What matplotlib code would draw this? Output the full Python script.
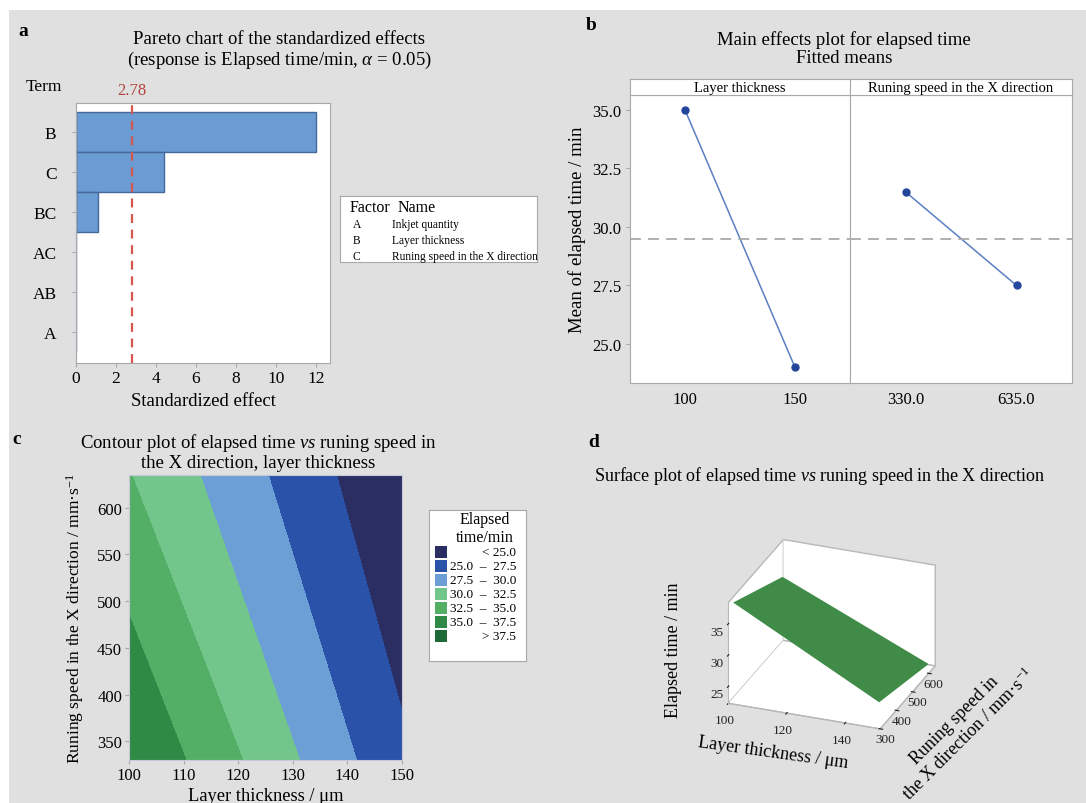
import matplotlib
matplotlib.use("Agg")
import matplotlib.pyplot as plt
import matplotlib.transforms as mtransforms
from matplotlib.patches import Rectangle
import numpy as np

plt.rcParams['font.family'] = ['Liberation Serif', 'DejaVu Serif']
plt.rcParams['mathtext.fontset'] = 'custom'
plt.rcParams['mathtext.rm'] = 'Liberation Serif'
plt.rcParams['mathtext.it'] = 'Liberation Serif:italic'

# a: Pareto chart of standardized effects
terms = ['B', 'C', 'BC', 'AC', 'AB', 'A']
effects = [12.0, 4.38, 1.1, 0.0, 0.0, 0.0]
t_crit = 2.78
factor_codes = ['A', 'B', 'C']
factor_names = ['Inkjet quantity', 'Layer thickness', 'Runing speed in the X direction']

# b: main effects (fitted means)
thick_labels = ['100', '150']
thick_means = [35.0, 24.0]
speed_labels = ['330.0', '635.0']
speed_means = [31.5, 27.5]
grand_mean = 29.5

# c / d: fitted elapsed time at the corners of the design
thick_range = [100, 150]
speed_range = [330, 635]
time_grid = [[37.5, 25.5],    # speed 330
             [32.6, 22.6]]    # speed 635
levels = [25.0, 27.5, 30.0, 32.5, 35.0, 37.5]
level_colors = ['#2b2e63', '#2a52a8', '#6c9fd5', '#73c68b', '#54af66', '#2e8a45', '#1e6a36']

W, H = 1086, 804
BG = '#e0e0e0'
EDGE = '#a8a8a8'


def rect(x0, y0, x1, y1):
    # pixel box (top-left origin) -> figure fraction
    return [x0 / W, 1 - y1 / H, (x1 - x0) / W, (y1 - y0) / H]


def fx(x):
    return x / W


def fy(y):
    return 1 - y / H


fig = plt.figure(figsize=(W / 100, H / 100), dpi=100)
fig.patch.set_facecolor('white')
fig.add_artist(Rectangle((fx(9), 0), 1, fy(11), transform=fig.transFigure,
                         facecolor=BG, edgecolor='none', zorder=-10))

# ---------------- a ----------------
ax = fig.add_axes(rect(76, 104, 330, 364))
ypos = np.arange(len(terms))
ax.barh(ypos, effects, height=1.0, color='#6a9bd2', edgecolor='#46699c', linewidth=1)
ax.axvline(t_crit, color='#d4564f', ls=(0, (4, 3)), lw=1.6)
ax.set_xlim(0, 12.7)
ax.set_ylim(len(terms) - 1 + 0.77, -0.73)
ax.set_yticks(ypos, terms, fontsize=12.5)
ax.set_xticks(range(0, 13, 2))
ax.tick_params(axis='x', labelsize=12.5, length=3, color=EDGE, pad=2)
ax.tick_params(axis='y', length=3, color=EDGE, pad=11)
for s in ax.spines.values():
    s.set_color(EDGE)
trans = mtransforms.blended_transform_factory(ax.transData, ax.transAxes)
ax.text(t_crit, 1.02, f'{t_crit:.2f}', transform=trans, color='#b0443c',
        ha='center', va='bottom', fontsize=12)
ax.set_xlabel('Standardized effect', fontsize=13.5, labelpad=4)
fig.text(fx(26), fy(87), 'Term', fontsize=12.5, ha='left', va='center')
fig.text(fx(279), fy(51), 'Pareto chart of the standardized effects\n'
         r'(response is Elapsed time/min, $\alpha$ = 0.05)',
         fontsize=13.5, ha='center', va='center', linespacing=1.1)
fig.text(fx(18), fy(31), 'a', fontsize=14, fontweight='bold', ha='left', va='center')

# factor table
tab = fig.add_axes(rect(340, 197, 537, 263))
tab.set_xticks([])
tab.set_yticks([])
for s in tab.spines.values():
    s.set_color(EDGE)
tab.text(0.05, 0.84, 'Factor', fontsize=11.5, va='center', transform=tab.transAxes)
tab.text(0.29, 0.84, 'Name', fontsize=11.5, va='center', transform=tab.transAxes)
for i, (c, n) in enumerate(zip(factor_codes, factor_names)):
    yy = 0.58 - i * 0.245
    tab.text(0.065, yy, c, fontsize=8.3, va='center', transform=tab.transAxes)
    tab.text(0.265, yy, n, fontsize=8.3, va='center', transform=tab.transAxes)

# ---------------- b ----------------
line_c = '#5b7fc3'
dot_c = '#24469a'
panels = [(thick_labels, thick_means, 'Layer thickness', 630, 850),
          (speed_labels, speed_means, 'Runing speed in the X direction', 850, 1072)]
first = None
for labels, means, name, x0, x1 in panels:
    axb = fig.add_axes(rect(x0, 96, x1, 384), sharey=first)
    axb.plot(range(len(means)), means, color=line_c, lw=1.1, marker='o',
             ms=5, mfc=dot_c, mec=dot_c)
    axb.axhline(grand_mean, color='#a9a9a9', ls=(0, (6, 4)), lw=1.3)
    axb.set_xlim(-0.5, 1.5)
    axb.set_xticks(range(len(labels)), labels)
    axb.tick_params(axis='x', labelsize=12, length=0, pad=6)
    for s in axb.spines.values():
        s.set_color(EDGE)
    if first is None:
        first = axb
        axb.set_ylim(23.33, 35.64)
        axb.set_yticks([25.0, 27.5, 30.0, 32.5, 35.0])
        axb.set_yticklabels([f'{v:.1f}' for v in [25.0, 27.5, 30.0, 32.5, 35.0]])
        axb.tick_params(axis='y', labelsize=12, length=3, color=EDGE, pad=3)
        axb.set_ylabel('Mean of elapsed time / min', fontsize=13.5)
        axb.yaxis.set_label_coords(-0.2, 0.535)
    else:
        axb.tick_params(axis='y', left=False, labelleft=False)
    strip = fig.add_axes(rect(x0, 80, x1, 96))
    strip.set_xticks([])
    strip.set_yticks([])
    for s in strip.spines.values():
        s.set_color(EDGE)
    strip.text(0.5, 0.45, name, fontsize=10.5, ha='center', va='center',
               transform=strip.transAxes)
fig.text(fx(844), fy(49), 'Main effects plot for elapsed time\nFitted means',
         fontsize=13.5, ha='center', va='center', linespacing=1.1)
fig.text(fx(586), fy(26), 'b', fontsize=14, fontweight='bold', ha='left', va='center')

# ---------------- c ----------------
axc = fig.add_axes(rect(129, 476, 402, 761))
Xc, Yc = np.meshgrid(thick_range, speed_range)
bounds = [0] + levels + [100]
axc.contourf(Xc, Yc, np.array(time_grid), levels=bounds, colors=level_colors)
axc.set_xlim(100, 150)
axc.set_ylim(330, 635)
axc.set_xticks(range(100, 151, 10))
axc.set_yticks(range(350, 601, 50))
axc.tick_params(labelsize=12, length=3, color=EDGE, pad=2)
for s in axc.spines.values():
    s.set_color('#c8c8d8')
axc.set_xlabel('Layer thickness / μm', fontsize=13.3, labelpad=3)
axc.set_ylabel('Runing speed in the X direction / mm·s$^{-1}$', fontsize=12.6, labelpad=8)
fig.text(fx(258), fy(452), 'Contour plot of elapsed time $\\it{vs}$ runing speed in\n'
         'the X direction, layer thickness',
         fontsize=13.5, ha='center', va='center', linespacing=1.05)
fig.text(fx(12), fy(440), 'c', fontsize=14, fontweight='bold', ha='left', va='center')

leg = fig.add_axes(rect(429, 511, 526, 662))
leg.set_xlim(0, 97)
leg.set_ylim(151, 0)
leg.set_xticks([])
leg.set_yticks([])
for s in leg.spines.values():
    s.set_color(EDGE)
leg.text(56, 9, 'Elapsed', fontsize=11.5, ha='center', va='center')
leg.text(56, 27, 'time/min', fontsize=11.5, ha='center', va='center')
labels_c = [f'< {levels[0]:.1f}'] + \
    [f'{lo:.1f}  –  {hi:.1f}' for lo, hi in zip(levels[:-1], levels[1:])] + \
    [f'> {levels[-1]:.1f}']
for i, (col, lab) in enumerate(zip(level_colors, labels_c)):
    yc = 42 + i * 14
    leg.add_patch(Rectangle((6, yc - 6), 12, 12, facecolor=col, edgecolor='none'))
    leg.text(87, yc, lab, fontsize=9.5, ha='right', va='center')

# ---------------- d ----------------
axd = fig.add_axes(rect(707, 517, 950, 760), projection='3d')
axd.set_proj_type('ortho')
axd.plot_surface(Xc, Yc, np.array(time_grid), color='#3f8b47', shade=False,
                 linewidth=0, antialiased=True)
axd.view_init(elev=26, azim=-69)
axd.set_box_aspect((1.45, 1.37, 1.0))
axd.set_xlim(100, 152)
axd.set_ylim(300, 640)
axd.set_zlim(22.3, 38.4)
axd.set_xticks([100, 120, 140])
axd.set_yticks([300, 400, 500, 600])
axd.set_zticks([25, 30, 35])
axd.zaxis.set_ticks_position('lower')
axd.grid(False)
axd.set_facecolor('none')
for axis in (axd.xaxis, axd.yaxis, axd.zaxis):
    axis.set_pane_color((1, 1, 1, 1))
    axis.pane.set_edgecolor('#b8b8b8')
    axis.line.set_color('#b8b8b8')
    axis.set_tick_params(labelsize=9.5, colors='#222222')
axd.xaxis.set_tick_params(pad=-2)
axd.yaxis.set_tick_params(pad=-5)
axd.zaxis.set_tick_params(pad=-3)
fig.text(fx(674), fy(650), 'Elapsed time / min', fontsize=13, rotation=90,
         ha='center', va='center')
fig.text(fx(773), fy(753), 'Layer thickness / μm', fontsize=13, rotation=-8,
         ha='center', va='center')
fig.text(fx(962), fy(728), 'Runing speed in\nthe X direction / mm·s$^{-1}$', fontsize=13,
         rotation=45, ha='center', va='center', rotation_mode='anchor', linespacing=1.1)
fig.text(fx(820), fy(476), 'Surface plot of elapsed time $\\it{vs}$ runing speed in the X direction',
         fontsize=13, ha='center', va='center')
fig.text(fx(588), fy(443), 'd', fontsize=14, fontweight='bold', ha='left', va='center')

fig.savefig('out.png', dpi=100, facecolor=fig.get_facecolor())
